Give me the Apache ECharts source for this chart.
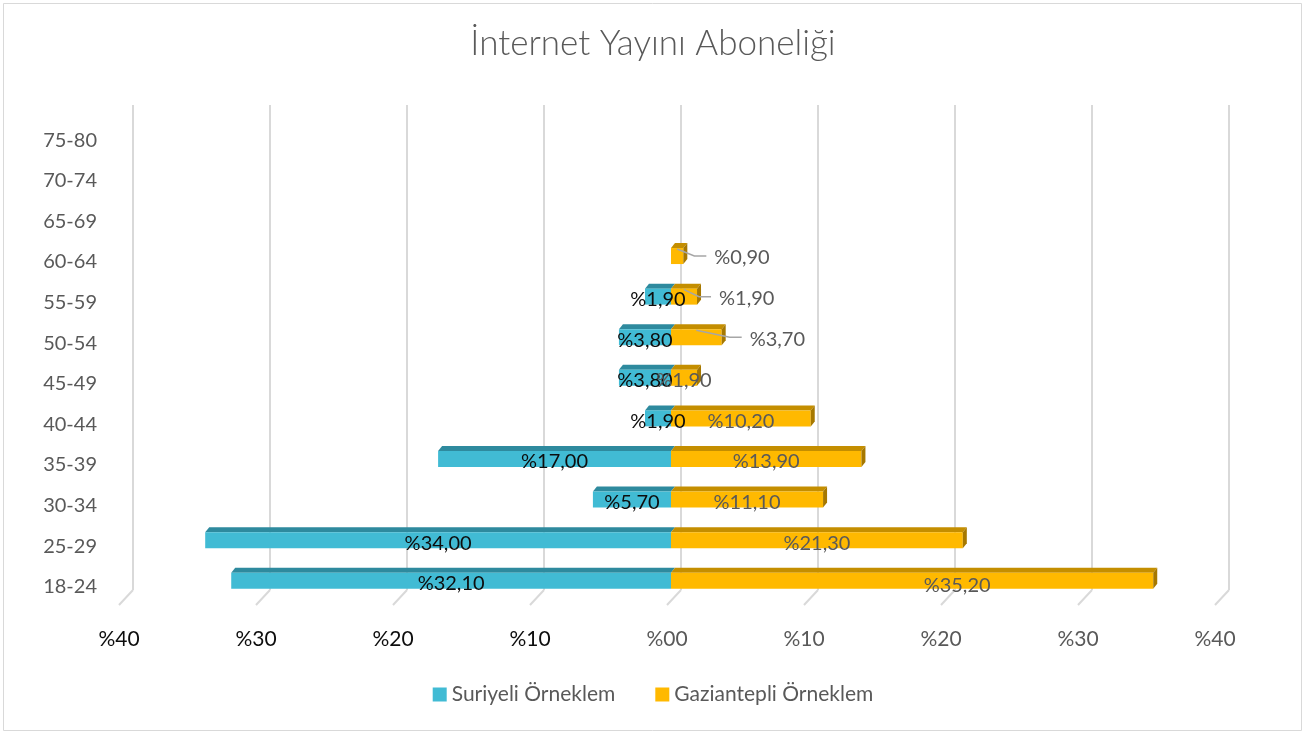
<!DOCTYPE html>
<html>
<head>
<meta charset="utf-8">
<script src="https://cdn.jsdelivr.net/npm/echarts@6/dist/echarts.min.js"></script>
<style>
html,body{margin:0;padding:0;background:#fff;}
#chart{width:1306px;height:735px;}
</style>
</head>
<body>
<div id="chart"></div>
<script>
// ---- data ----
const categories = ['18-24','25-29','30-34','35-39','40-44','45-49','50-54','55-59','60-64','65-69','70-74','75-80'];
const suriyeli   = [32.1, 34.0, 5.7, 17.0, 1.9, 3.8, 3.8, 1.9, 0, 0, 0, 0];
const gaziantepli = [35.2, 21.3, 11.1, 13.9, 10.2, 1.9, 3.7, 1.9, 0.9, 0, 0, 0];
const xTicks = [-40, -30, -20, -10, 0, 10, 20, 30, 40];
const seriesNames = ['Suriyeli Örneklem', 'Gaziantepli Örneklem'];
const titleText = 'İnternet Yayını Aboneliği';

// ---- layout / style config (not data) ----
const FONT = 'Lato, "Open Sans", sans-serif';
const calloutDx = {'50-54': 28, '55-59': 22, '60-64': 31}; // Gaziantepli labels placed outside with leader line
const labelShift = {'18-24': [45, 2]};                       // manually moved label
const colors = {
  sur: {front: '#41BBD4', top: '#2E8A9E', text: '#0D0D0D'},
  gaz: {front: '#FFB900', top: '#C48E00', side: '#A67800', text: '#595959'}
};

function fmt(v) { return '%' + v.toFixed(2).replace('.', ','); }

function makeRenderer(key) {
  const c = colors[key];
  return function (params, api) {
    const val = api.value(0);
    if (!val) return null;
    const cat = api.value(1);
    const catName = categories[cat];
    const a = api.coord([0, cat]);
    const b = api.coord([val, cat]);
    const h = 16, d = 4, dep = 5;
    const xl = Math.min(a[0], b[0]), xr = Math.max(a[0], b[0]);
    const cy = a[1], yt = cy - h / 2, yb = cy + h / 2;
    const children = [
      {type: 'polygon', shape: {points: [[xl, yt], [xr, yt], [xr + d, yt - dep], [xl + d, yt - dep]]}, style: {fill: c.top}},
      {type: 'rect', shape: {x: xl, y: yt, width: xr - xl, height: h}, style: {fill: c.front}}
    ];
    if (key === 'gaz') {
      children.push({type: 'polygon', shape: {points: [[xr, yt], [xr + d, yt - dep], [xr + d, yb - dep], [xr, yb]]}, style: {fill: c.side}});
    }
    const text = fmt(Math.abs(val));
    const cx = (xl + xr) / 2;
    if (key === 'gaz' && calloutDx[catName] !== undefined) {
      const tl = xr + calloutDx[catName];
      children.push({type: 'polyline', z2: 50, shape: {points: [[cx, yt + 1], [tl - 20, cy], [tl - 8, cy]]}, style: {stroke: '#A6A6A6', lineWidth: 1.5, fill: null}});
      children.push({type: 'text', z2: 100, style: {text: text, x: tl, y: cy + 2, align: 'left', verticalAlign: 'middle', fill: c.text, font: '20px ' + FONT}});
    } else {
      const sh = labelShift[catName] && key === 'gaz' ? labelShift[catName] : [0, 0];
      children.push({type: 'text', z2: 100, style: {text: text, x: cx + sh[0], y: cy + 3 + sh[1], align: 'center', verticalAlign: 'middle', fill: c.text, font: '20px ' + FONT}});
    }
    return {type: 'group', children: children};
  };
}

const chart = echarts.init(document.getElementById('chart'), null, {renderer: 'canvas'});
const option = {
  animation: false,
  backgroundColor: '#fff',
  title: {
    text: titleText, left: 'center', top: 21,
    textStyle: {fontFamily: FONT, fontSize: 35, fontWeight: 300, color: '#595959'}
  },
  legend: {
    data: seriesNames, bottom: 25, left: 'center', icon: 'rect', itemWidth: 14, itemHeight: 14, itemGap: 40,
    textStyle: {fontFamily: FONT, fontSize: 21, color: '#595959'}
  },
  graphic: [{type: 'rect', shape: {x: 3.5, y: 3.5, width: 1298, height: 727}, style: {fill: null, stroke: '#D9D9D9', lineWidth: 1}, silent: true}],
  grid: [
    {left: 133, right: 77, top: 105, bottom: 145},
    {left: 123, right: 87, top: 114, bottom: 134},
    {left: 123, right: 87, top: 120, bottom: 128}
  ],
  xAxis: [
    {gridIndex: 0, type: 'value', min: -40, max: 40, interval: 10,
     axisLine: {show: false}, axisTick: {show: false}, axisLabel: {show: false},
     splitLine: {show: true, lineStyle: {color: '#D9D9D9', width: 2}}},
    {gridIndex: 1, type: 'value', min: -40, max: 40, interval: 10,
     axisLine: {show: false}, axisTick: {show: false}, splitLine: {show: false},
     axisLabel: {
       margin: 28, padding: [0, 8, 0, 0],
       formatter: function (v) {
         const t = '%' + String(Math.abs(v)).padStart(2, '0');
         return v < 0 ? '{n|' + t + '}' : '{p|' + t + '}';
       },
       rich: {
         n: {fontFamily: FONT, fontSize: 21, color: '#0D0D0D'},
         p: {fontFamily: FONT, fontSize: 21, color: '#595959'}
       }
     }},
    {gridIndex: 2, type: 'value', min: -40, max: 40, show: false}
  ],
  yAxis: [
    {gridIndex: 0, type: 'value', min: 0, max: 1, show: false},
    {gridIndex: 1, type: 'category', data: categories,
     axisLine: {show: false}, axisTick: {show: false}, splitLine: {show: false}, axisLabel: {show: false}},
    {gridIndex: 2, type: 'category', data: categories,
     axisLine: {show: false}, axisTick: {show: false}, splitLine: {show: false},
     axisLabel: {margin: 26, fontFamily: FONT, fontSize: 20, color: '#595959'}}
  ],
  series: [
    {
      type: 'custom', name: 'floor', xAxisIndex: 0, yAxisIndex: 0, silent: true, z: 1,
      data: xTicks.map(function (t) { return [t, 0]; }),
      renderItem: function (params, api) {
        const p = api.coord([api.value(0), 0]);
        return {type: 'line', shape: {x1: p[0], y1: p[1], x2: p[0] - 14, y2: p[1] + 15}, style: {stroke: '#D9D9D9', lineWidth: 2}};
      }
    },
    {
      type: 'custom', name: seriesNames[0], xAxisIndex: 1, yAxisIndex: 1, z: 2,
      itemStyle: {color: colors.sur.front},
      data: suriyeli.map(function (v, i) { return [-v, i]; }),
      encode: {x: 0, y: 1},
      renderItem: makeRenderer('sur')
    },
    {
      type: 'custom', name: seriesNames[1], xAxisIndex: 1, yAxisIndex: 1, z: 2,
      itemStyle: {color: colors.gaz.front},
      data: gaziantepli.map(function (v, i) { return [v, i]; }),
      encode: {x: 0, y: 1},
      renderItem: makeRenderer('gaz')
    }
  ]
};
chart.setOption(option);
</script>
</body>
</html>
